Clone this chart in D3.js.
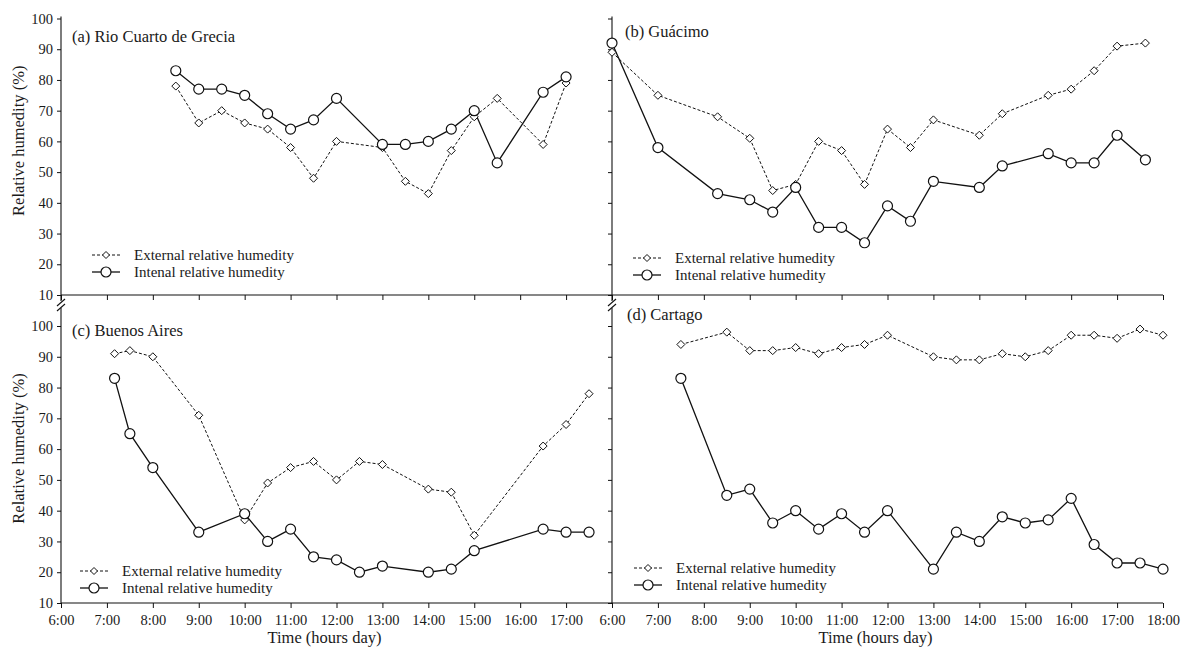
<!DOCTYPE html>
<html>
<head>
<meta charset="utf-8">
<script src="https://cdn.jsdelivr.net/npm/d3@7"></script>
<style>
  html, body { margin: 0; padding: 0; background: #fff; }
  svg { display: block; }
  text { font-family: "Liberation Serif", "Times New Roman", serif; fill: #1a1a1a; }
</style>
</head>
<body>
<svg id="chart" width="1185" height="648"></svg>
<script>
// ---------- data ----------
const hourTicks = ["6:00","7:00","8:00","9:00","10:00","11:00","12:00","13:00","14:00","15:00","16:00","17:00","18:00"];
const yTicks = [10,20,30,40,50,60,70,80,90,100];
const legendLabels = ["External relative humedity", "Intenal relative humedity"];
const yTitle = "Relative humedity (%)";
const xTitle = "Time (hours day)";

// (a) Rio Cuarto de Grecia
const timesA = ["8:30","9:00","9:30","10:00","10:30","11:00","11:30","12:00","13:00","13:30","14:00","14:30","15:00","15:30","16:30","17:00"];
const extA   = [78, 66, 70, 66, 64, 58, 48, 60, 58, 47, 43, 57, 68, 74, 59, 79];
const intA   = [83, 77, 77, 75, 69, 64, 67, 74, 59, 59, 60, 64, 70, 53, 76, 81];

// (b) Guácimo
const timesB = ["6:00","7:00","8:18","9:00","9:30","10:00","10:30","11:00","11:30","12:00","12:30","13:00","14:00","14:30","15:30","16:00","16:30","17:00","17:37"];
const extB   = [89, 75, 68, 61, 44, 46, 60, 57, 46, 64, 58, 67, 62, 69, 75, 77, 83, 91, 92];
const intB   = [92, 58, 43, 41, 37, 45, 32, 32, 27, 39, 34, 47, 45, 52, 56, 53, 53, 62, 54];

// (c) Buenos Aires
const timesC = ["7:10","7:30","8:00","9:00","10:00","10:30","11:00","11:30","12:00","12:30","13:00","14:00","14:30","15:00","16:30","17:00","17:30"];
const extC   = [91, 92, 90, 71, 37, 49, 54, 56, 50, 56, 55, 47, 46, 32, 61, 68, 78];
const intC   = [83, 65, 54, 33, 39, 30, 34, 25, 24, 20, 22, 20, 21, 27, 34, 33, 33];

// (d) Cartago
const timesD = ["7:30","8:30","9:00","9:30","10:00","10:30","11:00","11:30","12:00","13:00","13:30","14:00","14:30","15:00","15:30","16:00","16:30","17:00","17:30","18:00"];
const extD   = [94, 98, 92, 92, 93, 91, 93, 94, 97, 90, 89, 89, 91, 90, 92, 97, 97, 96, 99, 97];
const intD   = [83, 45, 47, 36, 40, 34, 39, 33, 40, 21, 33, 30, 38, 36, 37, 44, 29, 23, 23, 21];

const panelTitles = ["(a) Rio Cuarto de Grecia", "(b) Guácimo", "(c) Buenos Aires", "(d) Cartago"];

// ---------- helpers ----------
const toHours = s => { const [h, m] = s.split(":").map(Number); return h + m / 60; };
const svg = d3.select("#chart");

const diamondPath = r => `M0,${-r}L${r},0L0,${r}L${-r},0Z`;

const layout = [
  { title: panelTitles[0], times: timesA, ext: extA, int: intA, x0: 61,  x1: 612,  y0: 295, y1: 18.5, yLabels: true,  xLabels: false,
    titlePos: [72, 42], legend: [92, 255] },
  { title: panelTitles[1], times: timesB, ext: extB, int: intB, x0: 612, x1: 1163, y0: 295, y1: 18.5, yLabels: false, xLabels: false,
    titlePos: [625, 37], legend: [633, 258] },
  { title: panelTitles[2], times: timesC, ext: extC, int: intC, x0: 61,  x1: 612,  y0: 603, y1: 326, yLabels: true,  xLabels: true, skipLast: true,
    titlePos: [72, 336], legend: [80, 571] },
  { title: panelTitles[3], times: timesD, ext: extD, int: intD, x0: 612, x1: 1163, y0: 603, y1: 326, yLabels: false, xLabels: true,
    titlePos: [627, 320], legend: [634, 568] }
];

layout.forEach((p, i) => {
  const g = svg.append("g");
  const x = d3.scaleLinear().domain([6, 18]).range([p.x0, p.x1]);
  const y = d3.scaleLinear().domain([10, 100]).range([p.y0, p.y1]);

  // y axis ticks
  const yAxis = d3.axisLeft(y).tickValues(yTicks).tickSize(4).tickSizeOuter(0).tickPadding(4)
    .tickFormat(p.yLabels ? d3.format("d") : () => "");
  const ya = g.append("g").attr("transform", `translate(${p.x0},0)`).call(yAxis);
  ya.select(".domain").remove();
  ya.selectAll("line").attr("stroke", "#111").attr("stroke-width", 1);
  ya.selectAll("text").style("font-size", "14.5px").style("font-family", "Liberation Serif").attr("fill", "#1a1a1a");

  // x axis ticks
  const hourVals = hourTicks.map(toHours);
  const xAxis = d3.axisBottom(x).tickValues(hourVals).tickSize(5).tickSizeOuter(0).tickPadding(7)
    .tickFormat((d, k) => (p.xLabels && !(p.skipLast && k === hourVals.length - 1)) ? hourTicks[k] : "");
  const xa = g.append("g").attr("transform", `translate(0,${p.y0})`).call(xAxis);
  xa.select(".domain").remove();
  xa.selectAll("line").attr("stroke", "#111").attr("stroke-width", 1);
  xa.selectAll("text").style("font-size", "14.5px").style("font-family", "Liberation Serif").attr("fill", "#1a1a1a");

  // axis lines
  const top = i < 2;
  g.append("line").attr("x1", p.x0).attr("x2", p.x1).attr("y1", p.y0).attr("y2", p.y0)
    .attr("stroke", "#111").attr("stroke-width", 1.1);
  g.append("line").attr("x1", p.x0).attr("x2", p.x0)
    .attr("y1", top ? y(100) - 2 : 308).attr("y2", top ? p.y0 + 6 : p.y0)
    .attr("stroke", "#111").attr("stroke-width", 1.1);
  if (!top) {
    // break marks
    [0, 5].forEach(off => {
      g.append("line").attr("x1", p.x0 - 4).attr("y1", 306 + off).attr("x2", p.x0 + 4).attr("y2", 299 + off)
        .attr("stroke", "#111").attr("stroke-width", 1.1);
    });
  }

  // panel title
  g.append("text").attr("x", p.titlePos[0]).attr("y", p.titlePos[1])
    .style("font-size", "16.5px").text(p.title);

  // axis titles
  if (p.yLabels) {
    const cy = (p.y0 + p.y1) / 2 - 16;
    g.append("text").attr("transform", `translate(24,${cy}) rotate(-90)`)
      .attr("text-anchor", "middle").style("font-size", "16.5px").text(yTitle);
  }
  if (p.xLabels) {
    g.append("text").attr("x", (p.x0 + p.x1) / 2 - 12).attr("y", 643)
      .attr("text-anchor", "middle").style("font-size", "16.5px").text(xTitle);
  }

  // series
  const ptsExt = p.times.map((t, k) => ({ t: toHours(t), v: p.ext[k] }));
  const ptsInt = p.times.map((t, k) => ({ t: toHours(t), v: p.int[k] }));
  const line = d3.line().x(d => x(d.t)).y(d => y(d.v));

  g.append("path").datum(ptsExt).attr("d", line).attr("fill", "none")
    .attr("stroke", "#111").attr("stroke-width", 1).attr("stroke-dasharray", "3,2");
  g.append("path").datum(ptsInt).attr("d", line).attr("fill", "none")
    .attr("stroke", "#111").attr("stroke-width", 1.3);

  g.selectAll(".dia").data(ptsExt).join("path").attr("class", "dia")
    .attr("transform", d => `translate(${x(d.t)},${y(d.v)})`)
    .attr("d", diamondPath(4)).attr("fill", "#fff").attr("stroke", "#111").attr("stroke-width", 1);
  g.selectAll(".circ").data(ptsInt).join("circle").attr("class", "circ")
    .attr("cx", d => x(d.t)).attr("cy", d => y(d.v)).attr("r", 5)
    .attr("fill", "#fff").attr("stroke", "#111").attr("stroke-width", 1.2);

  // legend
  const [lx, ly] = p.legend;
  const lg = g.append("g");
  lg.append("line").attr("x1", lx).attr("x2", lx + 28).attr("y1", ly).attr("y2", ly)
    .attr("stroke", "#111").attr("stroke-width", 1).attr("stroke-dasharray", "3,2");
  lg.append("path").attr("transform", `translate(${lx + 14},${ly})`).attr("d", diamondPath(3.5))
    .attr("fill", "#fff").attr("stroke", "#111").attr("stroke-width", 1);
  lg.append("text").attr("x", lx + 42).attr("y", ly + 5).style("font-size", "15px").text(legendLabels[0]);
  lg.append("line").attr("x1", lx).attr("x2", lx + 28).attr("y1", ly + 17).attr("y2", ly + 17)
    .attr("stroke", "#111").attr("stroke-width", 1.3);
  lg.append("circle").attr("cx", lx + 14).attr("cy", ly + 17).attr("r", 5)
    .attr("fill", "#fff").attr("stroke", "#111").attr("stroke-width", 1.2);
  lg.append("text").attr("x", lx + 42).attr("y", ly + 22).style("font-size", "15px").text(legendLabels[1]);
});
</script>
</body>
</html>
